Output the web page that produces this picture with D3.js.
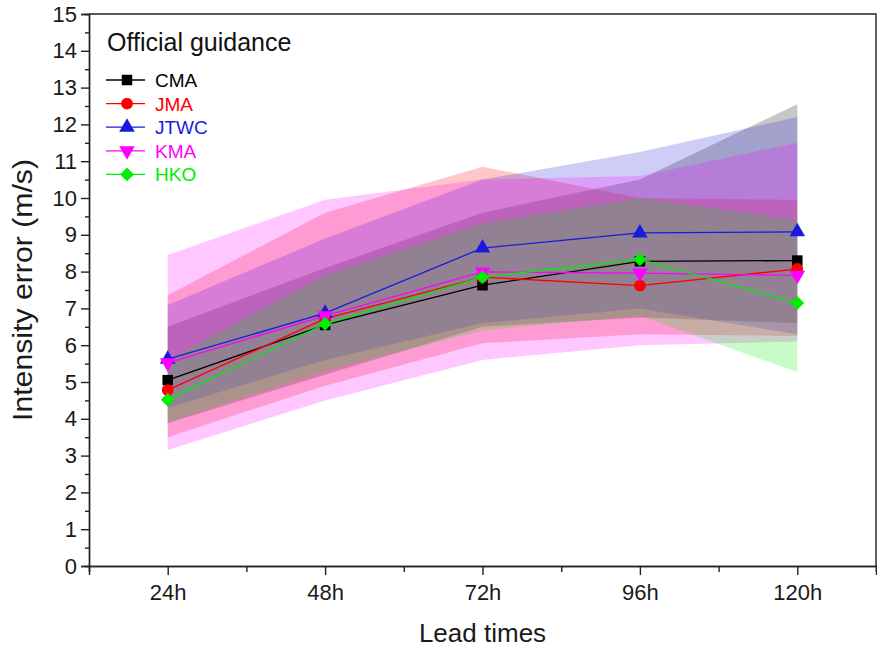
<!DOCTYPE html>
<html>
<head>
<meta charset="utf-8">
<script src="https://cdn.jsdelivr.net/npm/d3@7"></script>
<style>
  body { margin: 0; background: #fff; }
  svg { display: block; font-family: "Liberation Sans", Arial, sans-serif; }
</style>
</head>
<body>
<div id="chart"></div>
<script>
// lead times on the x axis
var leadTimes = ["24h", "48h", "72h", "96h", "120h"];

// mean intensity error per agency (m/s)
var cmaMean  = [5.05, 6.55, 7.63, 8.28, 8.30];
var jmaMean  = [4.78, 6.72, 7.85, 7.62, 8.07];
var jtwcMean = [5.62, 6.87, 8.64, 9.05, 9.08];
var kmaMean  = [5.52, 6.80, 7.99, 7.96, 7.90];
var hkoMean  = [4.52, 6.58, 7.85, 8.33, 7.15];

// shaded ranges per agency
var cmaLow   = [3.88, 5.20, 6.50, 6.75, 6.60];
var cmaHigh  = [6.50, 8.10, 9.60, 10.5, 12.55];
var jmaLow   = [3.50, 4.90, 6.05, 6.30, 6.25];
var jmaHigh  = [7.36, 9.60, 10.85, 10.0, 9.95];
var jtwcLow  = [4.30, 5.60, 6.60, 7.00, 6.30];
var jtwcHigh = [7.09, 8.90, 10.5, 11.25, 12.2];
var kmaLow   = [3.15, 4.50, 5.60, 6.00, 6.10];
var kmaHigh  = [8.45, 9.95, 10.5, 10.6, 11.5];
var hkoLow   = [3.90, 5.30, 6.40, 6.80, 5.27];
var hkoHigh  = [5.60, 7.90, 9.30, 10.0, 9.40];

var series = [
    {name: "CMA",  color: "#000000", symbol: d3.symbolSquare,   size: 110, mean: cmaMean,  low: cmaLow,  high: cmaHigh},
    {name: "JMA",  color: "#ff0000", symbol: d3.symbolCircle,   size: 110, mean: jmaMean,  low: jmaLow,  high: jmaHigh},
    {name: "JTWC", color: "#1a1adf", symbol: d3.symbolTriangle, size: 105, mean: jtwcMean, low: jtwcLow, high: jtwcHigh},
    {name: "KMA",  color: "#ff00ff", symbol: d3.symbolTriangle, size: 105, mean: kmaMean,  low: kmaLow,  high: kmaHigh, flip: true},
    {name: "HKO",  color: "#00ee00", symbol: d3.symbolDiamond2, size: 120, mean: hkoMean,  low: hkoLow,  high: hkoHigh}
];

var width = 877, height = 648;
var plot = {left: 89, right: 876, top: 14, bottom: 566};

var svg = d3.select("#chart").append("svg")
    .attr("width", width)
    .attr("height", height);

var x = d3.scaleLinear().domain([0.5, 5.5]).range([plot.left, plot.right]);
var y = d3.scaleLinear().domain([0, 15]).range([plot.bottom, plot.top]);

var idx = leadTimes.map(function(d, i) { return i + 1; });

// bands
var area = d3.area()
    .x(function(d) { return x(d.i); })
    .y0(function(d) { return y(d.lo); })
    .y1(function(d) { return y(d.hi); });

svg.append("g").selectAll("path")
    .data(series)
    .enter()
    .append("path")
    .attr("d", function(s) {
        return area(idx.map(function(i, k) { return {i: i, lo: s.low[k], hi: s.high[k]}; }));
    })
    .attr("fill", function(s) { return s.color; })
    .attr("fill-opacity", 0.22)
    .attr("stroke", "none");

// lines
var line = d3.line()
    .x(function(d) { return x(d.i); })
    .y(function(d) { return y(d.v); });

var lines = svg.append("g");
series.forEach(function(s) {
    var pts = idx.map(function(i, k) { return {i: i, v: s.mean[k]}; });
    lines.append("path")
        .attr("d", line(pts))
        .attr("fill", "none")
        .attr("stroke", s.color)
        .attr("stroke-width", 1.3);
    lines.selectAll(null)
        .data(pts)
        .enter()
        .append("path")
        .attr("d", d3.symbol().type(s.symbol).size(s.size))
        .attr("transform", function(d) {
            return "translate(" + x(d.i) + "," + y(d.v) + ")" + (s.flip ? " rotate(180)" : "");
        })
        .attr("fill", s.color);
});

// axes
var axisColor = "#222";
var xMajor = d3.axisBottom(x).tickValues(idx).tickSize(9).tickPadding(9)
    .tickFormat(function(d) { return leadTimes[d - 1]; });
var xMinor = d3.axisBottom(x).tickValues([0.5, 1.5, 2.5, 3.5, 4.5, 5.5]).tickSize(6).tickFormat("");
var yMajor = d3.axisLeft(y).tickValues(d3.range(0, 16)).tickSize(8).tickPadding(4);
var yMinor = d3.axisLeft(y).tickValues(d3.range(0.5, 15, 1)).tickSize(4).tickFormat("");

function styleAxis(g) {
    g.selectAll(".domain").attr("stroke", axisColor).attr("stroke-width", 1.4);
    g.selectAll(".tick line").attr("stroke", axisColor).attr("stroke-width", 1.4);
    g.selectAll(".tick text").attr("fill", "#1a1a1a").attr("font-size", 22)
        .attr("font-family", "Liberation Sans, Arial, sans-serif");
}

svg.append("g").attr("transform", "translate(0," + plot.bottom + ")").call(xMinor).call(styleAxis);
svg.append("g").attr("transform", "translate(0," + plot.bottom + ")").call(xMajor).call(styleAxis);
svg.append("g").attr("transform", "translate(" + plot.left + ",0)").call(yMinor).call(styleAxis);
svg.append("g").attr("transform", "translate(" + plot.left + ",0)").call(yMajor).call(styleAxis);

// box top and right
svg.append("path")
    .attr("d", "M" + plot.left + "," + plot.top + "H" + plot.right + "V" + plot.bottom)
    .attr("fill", "none")
    .attr("stroke", axisColor)
    .attr("stroke-width", 1.4);

// axis titles
svg.append("text")
    .attr("x", (plot.left + plot.right) / 2)
    .attr("y", 642)
    .attr("text-anchor", "middle")
    .attr("font-size", 26)
    .attr("fill", "#1a1a1a")
    .text("Lead times");

svg.append("text")
    .attr("transform", "translate(32," + ((plot.top + plot.bottom) / 2) + ") rotate(-90) scale(1.12,1)")
    .attr("text-anchor", "middle")
    .attr("font-size", 27)
    .attr("fill", "#1a1a1a")
    .text("Intensity error (m/s)");

// legend
var legend = svg.append("g").attr("transform", "translate(107,0)");
legend.append("text")
    .attr("x", 0)
    .attr("y", 51)
    .attr("font-size", 25)
    .attr("fill", "#111")
    .text("Official guidance");

series.forEach(function(s, i) {
    var ly = 80 + i * 23.6;
    var row = legend.append("g").attr("transform", "translate(0," + ly + ")");
    row.append("line").attr("x1", -1).attr("x2", 38).attr("y1", 0).attr("y2", 0)
        .attr("stroke", s.color).attr("stroke-width", 1.3);
    row.append("path")
        .attr("d", d3.symbol().type(s.symbol).size(s.size))
        .attr("transform", "translate(20,0)" + (s.flip ? " rotate(180)" : ""))
        .attr("fill", s.color);
    row.append("text")
        .attr("x", 48)
        .attr("y", 7)
        .attr("font-size", 19)
        .attr("fill", s.color)
        .text(s.name);
});
</script>
</body>
</html>
